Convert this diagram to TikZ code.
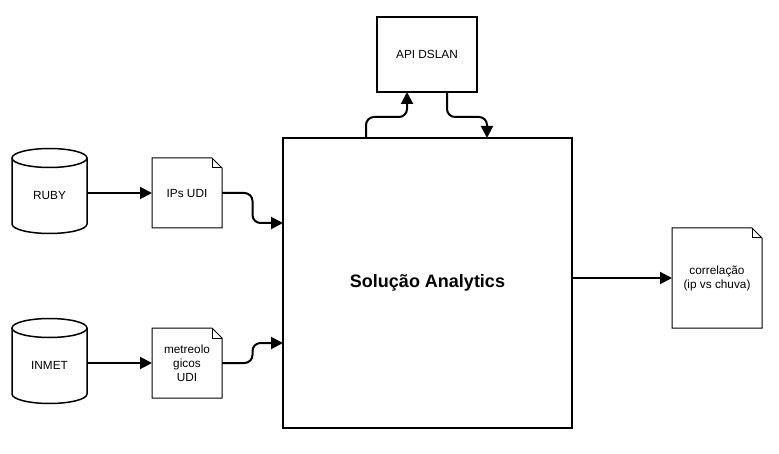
\documentclass[tikz,border=0pt]{standalone}
\usepackage{fontspec}
\setmainfont{Liberation Sans}
\usetikzlibrary{arrows.meta,calc}
\newcommand\docshape[1]{%
  \draw[docline] (#1.south west) -- (#1.north west) -- ([xshift=-10pt]#1.north east) -- ([yshift=-10pt]#1.north east) -- (#1.south east) -- cycle;
  \draw[docline] ([xshift=-10pt]#1.north east) -- ([xshift=-10pt,yshift=-10pt]#1.north east) -- ([yshift=-10pt]#1.north east);}
\newcommand\cylshape[1]{%
  \draw[cylline] ([yshift=-9.5pt]#1.north west) -- ([yshift=9.5pt]#1.south west) arc[start angle=180,end angle=360,x radius=37.5pt,y radius=9.5pt] -- ([yshift=-9.5pt]#1.north east);
  \draw[cylline] ([yshift=-9.5pt]#1.north) ellipse[x radius=37.5pt,y radius=9.5pt];}
\begin{document}
\begin{tikzpicture}[x=1pt,y=1pt,
  txt/.style={font=\fontsize{11.8}{14}\selectfont, align=center, inner sep=0pt, outer sep=0pt},
  docbox/.style={txt, minimum width=70pt, minimum height=70pt},
  cylbox/.style={txt, minimum width=75pt, minimum height=85pt},
  docline/.style={line width=1pt, line join=miter},
  cylline/.style={line width=1.5pt},
  boxline/.style={draw, line width=1.5pt, inner sep=0pt, outer sep=0pt},
  conn/.style={line width=2pt, -{Triangle[length=12pt,width=12pt]}, rounded corners=8pt}]
\useasboundingbox (0,0) rectangle (779,453);
\fill[white] (0,0) rectangle (779,453);
% sources
\node[cylbox] (ruby) at (49.5,262) {};
\cylshape{ruby}
\node[txt] (rubylabel) at ([yshift=-4pt]ruby.center) {RUBY};
\node[cylbox] (inmet) at (49.5,92) {};
\cylshape{inmet}
\node[txt] (inmetlabel) at ([yshift=-4pt]inmet.center) {INMET};
% documents
\node[docbox] (ips) at (187,260) {IPs UDI};
\docshape{ips}
\node[docbox] (met) at (187,90) {metreolo\\gicos\\UDI};
\docshape{met}
\node[txt, minimum width=90pt, minimum height=100pt] (corr) at (717,175) {correla\c{c}\~ao\\(ip vs chuva)};
\docshape{corr}
% main and api
\node[boxline, minimum width=289pt, minimum height=290pt, font=\bfseries\fontsize{18}{21}\selectfont] (main) at (427.5,170) {Solução Analytics};
\node[boxline, minimum width=100pt, minimum height=75pt, font=\fontsize{11.8}{14}\selectfont] (api) at (427,398.5) {API DSLAN};
% connectors
\draw[conn] (ips.west -| ruby.east) -- (ips.west);
\draw[conn] (met.west -| inmet.east) -- (met.west);
\draw[conn] (ips.east) -- ++(30.5,0) |- ([yshift=60pt]main.west);
\draw[conn] (met.east) -- ++(30.5,0) |- ([yshift=-60pt]main.west);
\draw[conn] ([xshift=-61.5pt]main.north) -- ++(0,21) -| ([xshift=-20pt]api.south);
\draw[conn] ([xshift=20pt]api.south) -- ++(0,-25) -| ([xshift=59.5pt]main.north);
\draw[conn] (corr.west -| main.east) -- (corr.west);
\end{tikzpicture}
\end{document}
